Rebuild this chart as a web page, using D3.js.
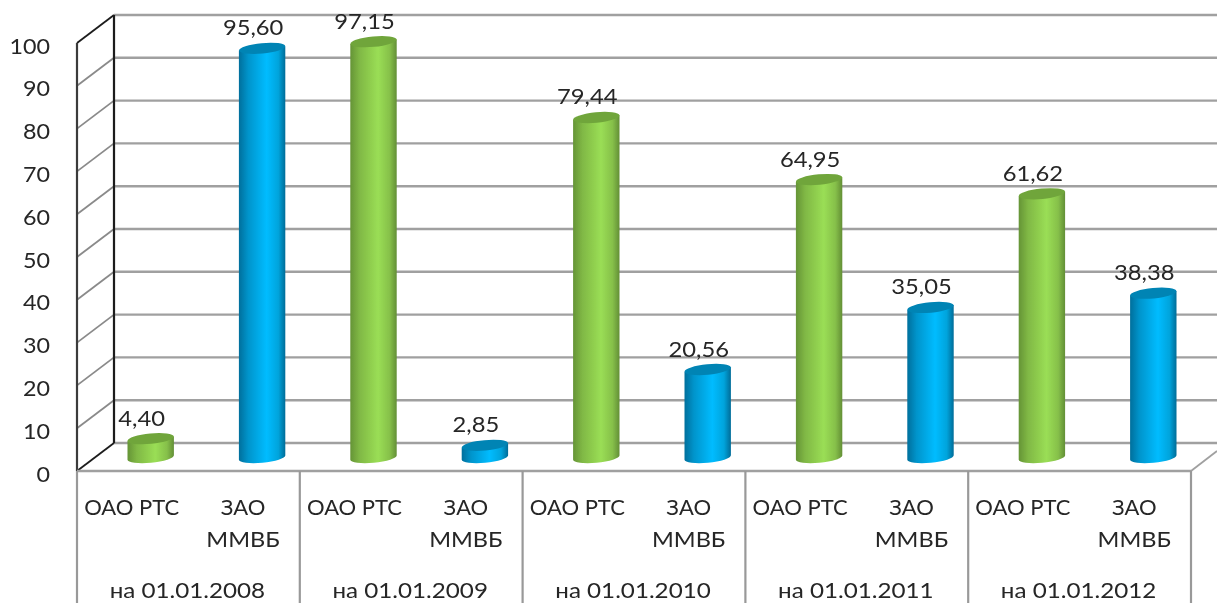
<!DOCTYPE html>
<html>
<head>
  <meta charset="UTF-8">
  <title>РТС и ММВБ</title>
  <script src="https://d3js.org/d3.v7.min.js"></script>
  <style>
    html, body { margin: 0; padding: 0; background: #fff; }
    svg { display: block; }
    text { font-family: Lato, "Open Sans", sans-serif; fill: #262626; font-size: 22px; }
  </style>
</head>
<body>
  <svg id="chart" width="1217" height="603"></svg>
  <script>
    const dates = ["на 01.01.2008", "на 01.01.2009", "на 01.01.2010", "на 01.01.2011", "на 01.01.2012"];
    const rtsValues = [4.40, 97.15, 79.44, 64.95, 61.62];
    const micexValues = [95.60, 2.85, 20.56, 35.05, 38.38];
    const yTicks = [0, 10, 20, 30, 40, 50, 60, 70, 80, 90, 100];

    const rows = [];
    dates.forEach((date, i) => {
      rows.push({ id: i + "a", date: date, name: ["ОАО РТС"], value: rtsValues[i], type: "green" });
      rows.push({ id: i + "b", date: date, name: ["ЗАО", "ММВБ"], value: micexValues[i], type: "blue" });
    });

    const defsRoot = d3.select("#chart");
    defsRoot.append("defs").append("filter").attr("id", "soft")
      .attr("filterUnits", "userSpaceOnUse")
      .attr("x", 0).attr("y", 0).attr("width", 1217).attr("height", 603)
      .append("feGaussianBlur").attr("stdDeviation", 0.45);
    const svg = defsRoot.append("g").attr("filter", "url(#soft)");

    const dx = 37, dy = -28;          // depth of the 3d box
    const left = 77, right = 1191, floorY = 471, topY = 43, bottom = 603;

    const y = d3.scaleLinear([0, 100], [floorY, topY]);
    const xCat = d3.scaleBand(rows.map(d => d.id), [left, right]);
    const xDate = d3.scaleBand(dates, [left, right]);

    const defs = defsRoot.select("defs");
    const ramps = {
      blue: ["#006f9c", "#0094cb", "#00bcff", "#00a4dc", "#006c98"],
      green: ["#659436", "#80b845", "#9ade55", "#86c04a", "#638f36"]
    };
    Object.keys(ramps).forEach(k => {
      defs.append("linearGradient").attr("id", "side-" + k)
        .selectAll("stop").data(ramps[k]).join("stop")
        .attr("offset", (d, i) => [0, 0.2, 0.6, 0.85, 1][i])
        .attr("stop-color", d => d);
    });
    const topColor = { blue: "#0084b4", green: "#6fa53b" };

    const grey = "#a0a0a0", dark = "#1c1c1c";

    // back wall gridlines and side wall
    svg.append("g").selectAll("line").data(yTicks).join("line")
      .attr("x1", left + dx).attr("x2", 1217)
      .attr("y1", d => y(d) + dy).attr("y2", d => y(d) + dy)
      .attr("stroke", grey).attr("stroke-width", 2.4);
    svg.append("g").selectAll("line").data(yTicks).join("line")
      .attr("x1", left).attr("x2", left + dx)
      .attr("y1", d => y(d)).attr("y2", d => y(d) + dy)
      .attr("stroke", d => (d === 0 || d === 100) ? dark : "#8a8a8a")
      .attr("stroke-width", 1.8);

    // verticals
    svg.append("line").attr("x1", left + dx).attr("x2", left + dx)
      .attr("y1", y(100) + dy).attr("y2", y(0) + dy)
      .attr("stroke", dark).attr("stroke-width", 2.2);
    svg.append("line").attr("x1", left).attr("x2", left)
      .attr("y1", y(100)).attr("y2", y(0))
      .attr("stroke", "#3a3a3a").attr("stroke-width", 2.2);

    // floor and category box
    svg.append("line").attr("x1", left).attr("x2", right).attr("y1", floorY).attr("y2", floorY)
      .attr("stroke", grey).attr("stroke-width", 2.4);
    svg.append("line").attr("x1", right).attr("x2", 1217).attr("y1", floorY).attr("y2", floorY - 20)
      .attr("stroke", grey).attr("stroke-width", 1.8);
    svg.append("g").selectAll("line").data(dates.concat("end")).join("line")
      .attr("x1", (d, i) => left + i * xDate.step()).attr("x2", (d, i) => left + i * xDate.step())
      .attr("y1", floorY).attr("y2", bottom)
      .attr("stroke", "#999").attr("stroke-width", 2.2);

    // cylinders
    const base = y(0) - 13.5, rx = 23.2, ry = 5.2, tilt = 2.2;
    const barX = d => xCat(d.id) + xCat.bandwidth() / 2 + 18;
    const bars = svg.append("g").selectAll("g").data(rows).join("g");
    bars.append("path")
      .attr("d", d => {
        const cx = barX(d), top = base - (y(0) - y(d.value));
        return `M${cx - rx},${top + tilt} L${cx - rx},${base + tilt}
                A${rx},${ry} -5.5 0 0 ${cx + rx},${base - tilt}
                L${cx + rx},${top - tilt} Z`;
      })
      .attr("fill", d => `url(#side-${d.type})`);
    bars.append("ellipse")
      .attr("rx", rx).attr("ry", ry)
      .attr("transform", d => `translate(${barX(d)},${base - (y(0) - y(d.value))}) rotate(-5.5)`)
      .attr("fill", d => topColor[d.type]);

    // value labels (the source font is wider than Lato, so stretch a little)
    svg.append("g").selectAll("text").data(rows).join("text")
      .attr("text-anchor", "middle")
      .attr("transform", d => `translate(${barX(d) - 9},${base - (y(0) - y(d.value)) - 13}) scale(1.08,1)`)
      .text(d => d.value.toFixed(2).replace(".", ","));

    // y axis
    const axis = svg.append("g").attr("transform", "translate(50,3)")
      .call(d3.axisLeft(y).tickValues(yTicks).tickSize(0).tickPadding(0));
    axis.select(".domain").remove();
    axis.selectAll("text")
      .attr("style", "font-size:22px;font-family:Lato,'Open Sans',sans-serif;fill:#262626")
      .attr("transform", "scale(1.06,1)");

    // category labels
    const names = svg.append("g").selectAll("g").data(rows).join("g")
      .attr("transform", d => `translate(${xCat(d.id) + xCat.bandwidth() / 2 - 1},0)`);
    names.selectAll("text").data(d => d.name).join("text")
      .attr("text-anchor", "middle")
      .attr("transform", (d, i) => `translate(0,${515 + i * 32}) scale(${d === "ММВБ" ? 1.07 : 1.0},1)`)
      .text(d => d);

    svg.append("g").selectAll("text").data(dates).join("text")
      .attr("text-anchor", "middle")
      .attr("transform", d => `translate(${xDate(d) + xDate.bandwidth() / 2 - 1},598) scale(1.1,1)`)
      .text(d => d);
  </script>
</body>
</html>
